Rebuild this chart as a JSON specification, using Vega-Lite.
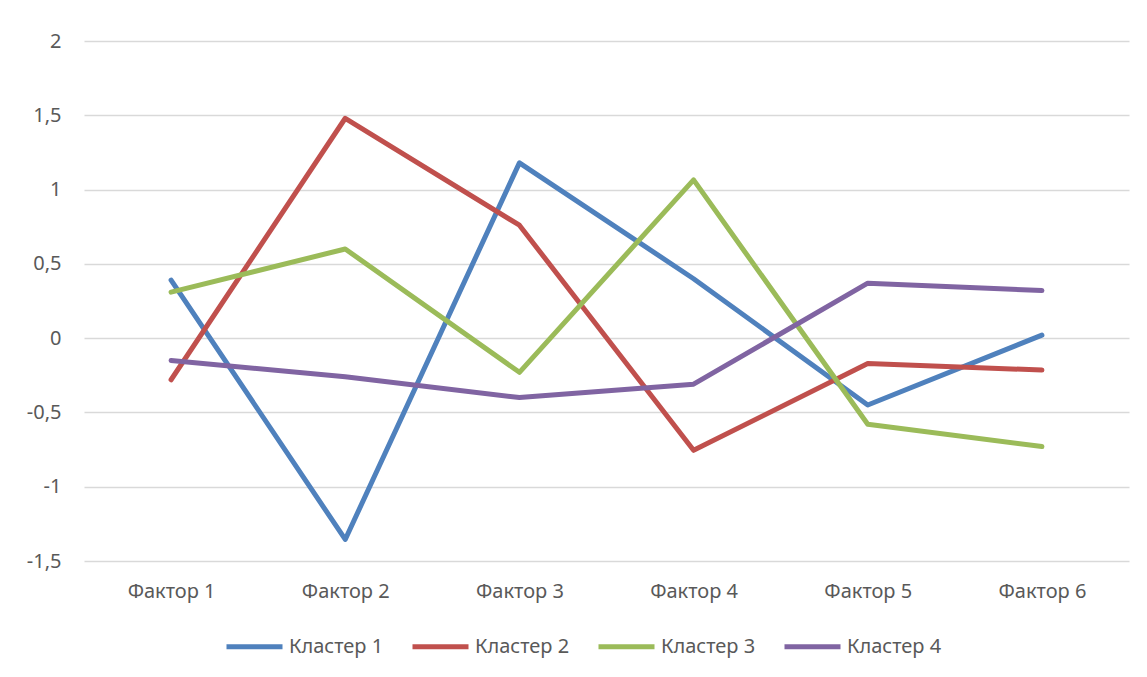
{
  "$schema": "https://vega.github.io/schema/vega-lite/v6.json",
  "width": 1045,
  "height": 520,
  "autosize": {"type": "none"},
  "padding": {"left": 84, "top": 41, "right": 18, "bottom": 116},
  "background": "white",
  "data": {
    "values": [
      {"factor": "Фактор 1", "cluster": "Кластер 1", "value": 0.39},
      {"factor": "Фактор 2", "cluster": "Кластер 1", "value": -1.355},
      {"factor": "Фактор 3", "cluster": "Кластер 1", "value": 1.18},
      {"factor": "Фактор 4", "cluster": "Кластер 1", "value": 0.40},
      {"factor": "Фактор 5", "cluster": "Кластер 1", "value": -0.45},
      {"factor": "Фактор 6", "cluster": "Кластер 1", "value": 0.02},
      {"factor": "Фактор 1", "cluster": "Кластер 2", "value": -0.28},
      {"factor": "Фактор 2", "cluster": "Кластер 2", "value": 1.48},
      {"factor": "Фактор 3", "cluster": "Кластер 2", "value": 0.76},
      {"factor": "Фактор 4", "cluster": "Кластер 2", "value": -0.755},
      {"factor": "Фактор 5", "cluster": "Кластер 2", "value": -0.17},
      {"factor": "Фактор 6", "cluster": "Кластер 2", "value": -0.215},
      {"factor": "Фактор 1", "cluster": "Кластер 3", "value": 0.31},
      {"factor": "Фактор 2", "cluster": "Кластер 3", "value": 0.60},
      {"factor": "Фактор 3", "cluster": "Кластер 3", "value": -0.23},
      {"factor": "Фактор 4", "cluster": "Кластер 3", "value": 1.065},
      {"factor": "Фактор 5", "cluster": "Кластер 3", "value": -0.58},
      {"factor": "Фактор 6", "cluster": "Кластер 3", "value": -0.73},
      {"factor": "Фактор 1", "cluster": "Кластер 4", "value": -0.15},
      {"factor": "Фактор 2", "cluster": "Кластер 4", "value": -0.26},
      {"factor": "Фактор 3", "cluster": "Кластер 4", "value": -0.40},
      {"factor": "Фактор 4", "cluster": "Кластер 4", "value": -0.31},
      {"factor": "Фактор 5", "cluster": "Кластер 4", "value": 0.37},
      {"factor": "Фактор 6", "cluster": "Кластер 4", "value": 0.32}
    ]
  },
  "mark": {"type": "line", "strokeWidth": 5, "strokeCap": "round", "strokeJoin": "round"},
  "encoding": {
    "x": {
      "field": "factor", "type": "nominal", "sort": null,
      "scale": {"type": "point", "padding": 0.5},
      "axis": {"title": null, "domain": false, "ticks": false, "labelAngle": 0, "labelPadding": 20, "grid": false, "labelFontSize": 20}
    },
    "y": {
      "field": "value", "type": "quantitative",
      "scale": {"domain": [-1.5, 2], "nice": false, "zero": false},
      "axis": {
        "title": null, "domain": false, "ticks": false,
        "values": [-1.5, -1, -0.5, 0, 0.5, 1, 1.5, 2],
        "format": ".1~f",
        "labelPadding": 23, "labelFontSize": 20,
        "labelExpr": "replace(replace(datum.label, '.', ','), '−', '-')",
        "grid": true, "gridColor": "#d9d9d9", "gridWidth": 1.3
      }
    },
    "color": {
      "field": "cluster", "type": "nominal",
      "scale": {"domain": ["Кластер 1", "Кластер 2", "Кластер 3", "Кластер 4"], "range": ["#4f81bd", "#c0504d", "#9bbb59", "#8064a2"]},
      "legend": {
        "title": null, "orient": "none", "direction": "horizontal",
        "legendX": 140, "legendY": 575,
        "symbolType": "stroke", "symbolSize": 3136, "symbolStrokeWidth": 5,
        "columnPadding": 18, "labelOffset": 4, "labelFontSize": 20
      }
    }
  },
  "config": {
    "font": "Noto Sans",
    "view": {"stroke": null},
    "axis": {"labelFont": "Noto Sans", "labelColor": "#595959"},
    "legend": {"labelFont": "Noto Sans", "labelColor": "#595959"}
  }
}
